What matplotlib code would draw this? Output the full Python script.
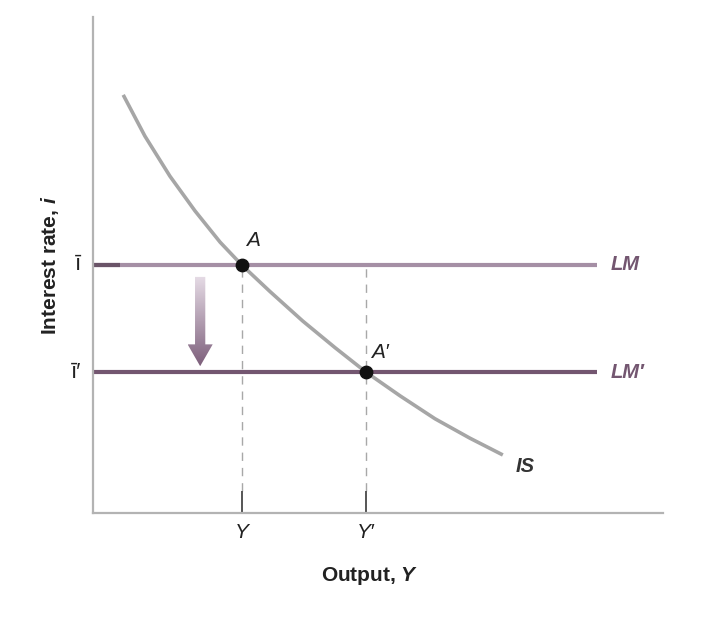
import numpy as np
import matplotlib
matplotlib.use("Agg")
import matplotlib.pyplot as plt
from matplotlib.patches import Polygon
from matplotlib.colors import LinearSegmentedColormap

plt.rcParams["mathtext.fontset"] = "custom"
plt.rcParams["mathtext.rm"] = "Liberation Sans"
plt.rcParams["mathtext.it"] = "Liberation Sans:italic"
plt.rcParams["mathtext.bf"] = "Liberation Sans:bold"
plt.rcParams["mathtext.bfit"] = "Liberation Sans:bold:italic"

# ---- data (arbitrary units) ----
is_x = [0.53, 0.91, 1.35, 1.79, 2.23, 2.61, 3.11, 3.68, 4.25, 4.79, 5.39, 6.00, 6.61, 7.19]
is_y = [8.43, 7.60, 6.79, 6.09, 5.46, 5.00, 4.46, 3.87, 3.33, 2.84, 2.36, 1.90, 1.51, 1.17]
lm_y = 5.00        # i-bar
lm2_y = 2.84       # i-bar prime
lm_x_end = 8.84
eq_x = [2.61, 4.79]   # Y, Y'
eq_y = [5.00, 2.84]
eq_labels = ["A", "A\u2032"]
xtick_labels = ["Y", "Y\u2032"]
ytick_labels = ["\u012b", "\u012b\u2032"]
arrow_x = 1.88
arrow_top = 4.76
arrow_bottom = 2.96

LM_C = "#a58fa5"
LM2_C = "#735670"
AX_C = "#b3b3b3"
FONT = "Liberation Sans"

fig = plt.figure(figsize=(7.26, 6.22), dpi=100)
fig.patch.set_facecolor("white")
ax = fig.add_axes([93/726, 1-513/622, 570/726, 496/622])
ax.set_xlim(0, 10)
ax.set_ylim(0, 10)
for s in ["top", "right"]:
    ax.spines[s].set_visible(False)
for s in ["left", "bottom"]:
    ax.spines[s].set_color(AX_C)
    ax.spines[s].set_linewidth(1.6)
ax.set_xticks([])
ax.set_yticks([])
ax.patch.set_alpha(0)

# dashed verticals
ax.vlines(eq_x, 0.45, lm_y, colors="#a8a8a8", linestyles=(0, (6, 5)), linewidth=1.0, zorder=1)
# solid ticks at Y, Y'
ax.vlines(eq_x, 0, 0.45, colors="#555555", linewidth=1.4, zorder=2)

# LM lines
ax.hlines(lm_y, 0, lm_x_end, colors=LM_C, linewidth=3.0, zorder=2)
ax.hlines(lm_y, 0, 0.47, colors="#6a5468", linewidth=3.0, zorder=2)
ax.hlines(lm2_y, 0, lm_x_end, colors=LM2_C, linewidth=3.0, zorder=2)

# IS curve
ax.plot(is_x, is_y, color="#a6a6a6", linewidth=2.6, solid_capstyle="butt",
        solid_joinstyle="round", zorder=3)

# equilibrium points
ax.scatter(eq_x, eq_y, s=80, color="#111111", zorder=5)

# gradient arrow
hw = 0.09
hhw = 0.22
hl = 0.44
poly = [(arrow_x - hw, arrow_top), (arrow_x + hw, arrow_top),
        (arrow_x + hw, arrow_bottom + hl), (arrow_x + hhw, arrow_bottom + hl),
        (arrow_x, arrow_bottom), (arrow_x - hhw, arrow_bottom + hl),
        (arrow_x - hw, arrow_bottom + hl)]
patch = Polygon(poly, closed=True, facecolor="none", edgecolor="none")
ax.add_patch(patch)
grad = np.linspace(0, 1, 256).reshape(-1, 1)
cmap = LinearSegmentedColormap.from_list("g", ["#e6dce6", "#7d5f7b"])
im = ax.imshow(grad, cmap=cmap, extent=[arrow_x - hhw, arrow_x + hhw, arrow_bottom, arrow_top],
               origin="upper", aspect="auto", zorder=4)
im.set_clip_path(patch)
ax.set_xlim(0, 10)
ax.set_ylim(0, 10)

TXT = "#222222"
# labels for points
ax.text(eq_x[0] + 0.08, eq_y[0] + 0.3, eq_labels[0], fontsize=15, style="italic", family=FONT, color=TXT, ha="left", va="bottom")
ax.text(eq_x[1] + 0.08, eq_y[1] + 0.2, eq_labels[1], fontsize=15, style="italic", family=FONT, color=TXT, ha="left", va="bottom")

# line labels
ax.text(lm_x_end + 0.25, lm_y, "LM", fontsize=14.5, style="italic", weight="bold", family=FONT, color=LM2_C, ha="left", va="center")
ax.text(lm_x_end + 0.25, lm2_y, "LM\u2032", fontsize=14.5, style="italic", weight="bold", family=FONT, color=LM2_C, ha="left", va="center")
ax.text(is_x[-1] + 0.22, is_y[-1] - 0.05, "IS", fontsize=14.5, style="italic", weight="bold", family=FONT, color="#333333", ha="left", va="top")

# tick labels
for xv, lab in zip(eq_x, xtick_labels):
    ax.text(xv, -0.2, lab, fontsize=15, style="italic", family=FONT, color=TXT, ha="center", va="top")
for yv, lab in zip([lm_y, lm2_y], ytick_labels):
    ax.text(-0.2, yv, lab, fontsize=16, family=FONT, color=TXT, ha="right", va="center")

# axis labels
ax.text(4.85, -1.05, "Output, $\\boldsymbol{Y}$", fontsize=15, weight="bold", family=FONT, color=TXT, ha="center", va="top")
fig.text(50/726, 1-265/622, "Interest rate, $\\boldsymbol{i}$", fontsize=15, weight="bold", family=FONT, color=TXT,
         rotation=90, ha="center", va="center")

plt.savefig("out.png", dpi=100, facecolor="white")
